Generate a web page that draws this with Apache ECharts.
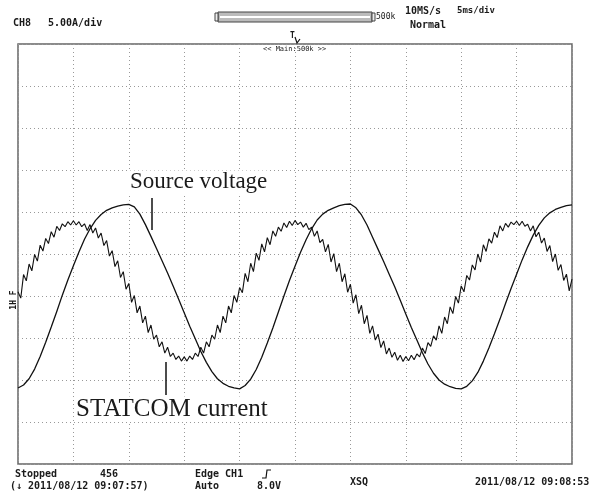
<!DOCTYPE html>
<html>
<head>
<meta charset="utf-8">
<script src="https://cdn.jsdelivr.net/npm/echarts@6/dist/echarts.min.js"></script>
<style>
  html, body { margin: 0; padding: 0; background: #fff; }
  #scope { width: 594px; height: 498px; }
</style>
</head>
<body>
<div id="scope"></div>
<script>
// screen is 10 x 10 divisions, values below are in divisions
var xDivs = [0, 10];
var yDivs = [-5, 5];

// source voltage, one sample every 0.1 div
var voltageStep = 0.1;
var voltage = [
  -3.19, -3.12, -2.97, -2.74, -2.44, -2.10, -1.74, -1.37, -0.98, -0.62,
  -0.28, 0.05, 0.35, 0.60, 0.80, 0.94, 1.04, 1.10, 1.14, 1.17,
  1.18, 1.12, 0.95, 0.70, 0.42, 0.13, -0.16, -0.45, -0.76, -1.08,
  -1.40, -1.72, -2.02, -2.32, -2.58, -2.80, -2.97, -3.08, -3.15, -3.19,
  -3.21, -3.13, -2.98, -2.75, -2.46, -2.12, -1.76, -1.38, -1.00, -0.63,
  -0.29, 0.04, 0.34, 0.60, 0.81, 0.95, 1.04, 1.10, 1.15, 1.18,
  1.19, 1.10, 0.93, 0.69, 0.40, 0.11, -0.18, -0.48, -0.78, -1.10,
  -1.43, -1.75, -2.05, -2.35, -2.62, -2.84, -3.00, -3.10, -3.16, -3.20,
  -3.21, -3.15, -3.02, -2.82, -2.55, -2.24, -1.90, -1.55, -1.18, -0.82,
  -0.48, -0.14, 0.17, 0.45, 0.68, 0.86, 0.98, 1.06, 1.11, 1.15, 1.17
];

// STATCOM current (with switching ripple), one sample every 0.05 div
var currentStep = 0.05;
var current = [
  -0.90, -1.05, -0.49, -0.64, -0.24, -0.40, -0.01, -0.17, 0.21, 0.07,
  0.37, 0.25, 0.53, 0.40, 0.66, 0.56, 0.72, 0.65, 0.77, 0.69,
  0.79, 0.69, 0.77, 0.65, 0.72, 0.56, 0.70, 0.50, 0.62, 0.38,
  0.50, 0.20, 0.32, -0.05, 0.08, -0.30, -0.16, -0.56, -0.42, -0.84,
  -0.70, -1.15, -0.99, -1.40, -1.24, -1.64, -1.48, -1.87, -1.69, -2.03,
  -1.93, -2.21, -2.09, -2.36, -2.22, -2.44, -2.36, -2.51, -2.43, -2.55,
  -2.45, -2.55, -2.43, -2.51, -2.36, -2.44, -2.22, -2.36, -2.09, -2.21,
  -1.93, -2.03, -1.69, -1.87, -1.48, -1.64, -1.24, -1.40, -0.99, -1.15,
  -0.80, -0.92, -0.46, -0.66, -0.22, -0.42, 0.02, -0.15, 0.24, 0.05,
  0.39, 0.22, 0.55, 0.42, 0.64, 0.54, 0.74, 0.63, 0.78, 0.68,
  0.80, 0.70, 0.76, 0.64, 0.73, 0.58, 0.64, 0.42, 0.55, 0.27,
  0.35, 0.05, 0.23, -0.19, 0.01, -0.42, -0.22, -0.66, -0.47, -0.91,
  -0.72, -1.17, -0.97, -1.42, -1.22, -1.66, -1.46, -1.89, -1.71, -2.05,
  -1.91, -2.23, -2.07, -2.38, -2.24, -2.46, -2.34, -2.53, -2.41, -2.56,
  -2.44, -2.54, -2.41, -2.52, -2.38, -2.45, -2.24, -2.37, -2.11, -2.20,
  -1.95, -2.05, -1.71, -1.89, -1.50, -1.66, -1.26, -1.42, -1.01, -1.17,
  -0.76, -0.90, -0.51, -0.62, -0.26, -0.38, 0.00, -0.19, 0.22, 0.06,
  0.36, 0.26, 0.52, 0.39, 0.67, 0.55, 0.73, 0.64, 0.76, 0.70,
  0.78, 0.68, 0.78, 0.66, 0.71, 0.55, 0.67, 0.41, 0.52, 0.26,
  0.38, 0.06, 0.20, -0.18, 0.00, -0.39, -0.25, -0.63, -0.48, -0.88,
  -0.60
];

function toPairs(values, step) {
  var out = [];
  for (var i = 0; i < values.length; i++) {
    out.push([+(i * step).toFixed(3), values[i]]);
  }
  return out;
}

var mono = 'bold 10px "DejaVu Sans Mono", monospace';
var serif = '23px "Liberation Serif", "Times New Roman", serif';

function label(text, x, y, font, extra) {
  var el = {
    type: 'text', x: x, y: y, z: 10,
    style: { text: text, font: font || mono, fill: '#1a1a1a', verticalAlign: 'middle' }
  };
  if (extra) {
    for (var k in extra) el.style[k] = extra[k];
  }
  return el;
}

var chart = echarts.init(document.getElementById('scope'), null, { renderer: 'canvas' });

var marker = label('1H F', 14, 300, 'bold 8px "DejaVu Sans Mono", monospace', { align: 'center' });
marker.rotation = Math.PI / 2;

var option = {
  backgroundColor: '#fff',
  animation: false,
  grid: {
    left: 18, right: 22, top: 44, bottom: 34,
    show: true, borderColor: '#666', borderWidth: 1.5, backgroundColor: '#fff'
  },
  xAxis: {
    type: 'value', min: xDivs[0], max: xDivs[1], interval: 1,
    axisLine: { show: false }, axisTick: { show: false }, axisLabel: { show: false },
    splitLine: { show: true, lineStyle: { color: '#999', width: 1, type: [1, 3] } }
  },
  yAxis: {
    type: 'value', min: yDivs[0], max: yDivs[1], interval: 1,
    axisLine: { show: false }, axisTick: { show: false }, axisLabel: { show: false },
    splitLine: { show: true, lineStyle: { color: '#999', width: 1, type: [1, 3] } }
  },
  series: [
    {
      name: 'Source voltage', type: 'line', showSymbol: false,
      data: toPairs(voltage, voltageStep),
      lineStyle: { color: '#111', width: 1.3 }
    },
    {
      name: 'STATCOM current', type: 'line', showSymbol: false,
      data: toPairs(current, currentStep),
      lineStyle: { color: '#111', width: 1.1 }
    }
  ],
  graphic: [
    // header
    label('CH8', 13, 23),
    label('5.00A/div', 48, 23),
    { type: 'rect', shape: { x: 218, y: 12, width: 154, height: 10 }, style: { fill: '#bbb', stroke: '#444', lineWidth: 1 } },
    { type: 'line', shape: { x1: 220, y1: 17, x2: 370, y2: 17 }, style: { stroke: '#fff', lineWidth: 2 } },
    { type: 'rect', shape: { x: 215, y: 13, width: 3, height: 8 }, style: { fill: '#eee', stroke: '#444', lineWidth: 1 } },
    { type: 'rect', shape: { x: 372, y: 13, width: 3, height: 8 }, style: { fill: '#eee', stroke: '#444', lineWidth: 1 } },
    label('500k', 376, 17, '8px "DejaVu Sans Mono", monospace'),
    label('10MS/s', 405, 11),
    label('5ms/div', 457, 11, 'bold 9px "DejaVu Sans Mono", monospace'),
    label('Normal', 410, 25),
    label('T', 290, 36, 'bold 8px "DejaVu Sans Mono", monospace'),
    { type: 'polyline', shape: { points: [[295, 37], [297, 43], [300, 39]] }, style: { stroke: '#111', fill: null, lineWidth: 1.2 } },
    label('<< Main:500k >>', 263, 49, '7px "DejaVu Sans Mono", monospace'),
    // channel marker on the left edge
    marker,
    // annotations
    label('Source voltage', 128, 182, serif, { backgroundColor: '#fff', padding: [0, 2] }),
    { type: 'line', z: 10, shape: { x1: 152, y1: 198, x2: 152, y2: 230 }, style: { stroke: '#111', lineWidth: 1.5 } },
    label('STATCOM current', 74, 409, '25px "Liberation Serif", "Times New Roman", serif', { backgroundColor: '#fff', padding: [0, 2] }),
    { type: 'line', z: 10, shape: { x1: 166, y1: 362, x2: 166, y2: 395 }, style: { stroke: '#111', lineWidth: 1.5 } },
    // footer
    label('Stopped', 15, 474),
    label('456', 100, 474),
    label('(\u2193 2011/08/12 09:07:57)', 10, 486),
    label('Edge CH1', 195, 474),
    { type: 'polyline', shape: { points: [[262, 478], [266, 478], [267, 470], [271, 470]] }, style: { stroke: '#111', fill: null, lineWidth: 1.2 } },
    label('Auto', 195, 486),
    label('8.0V', 257, 486),
    label('XSQ', 350, 482),
    label('2011/08/12 09:08:53', 475, 482)
  ]
};

chart.setOption(option);
</script>
</body>
</html>
